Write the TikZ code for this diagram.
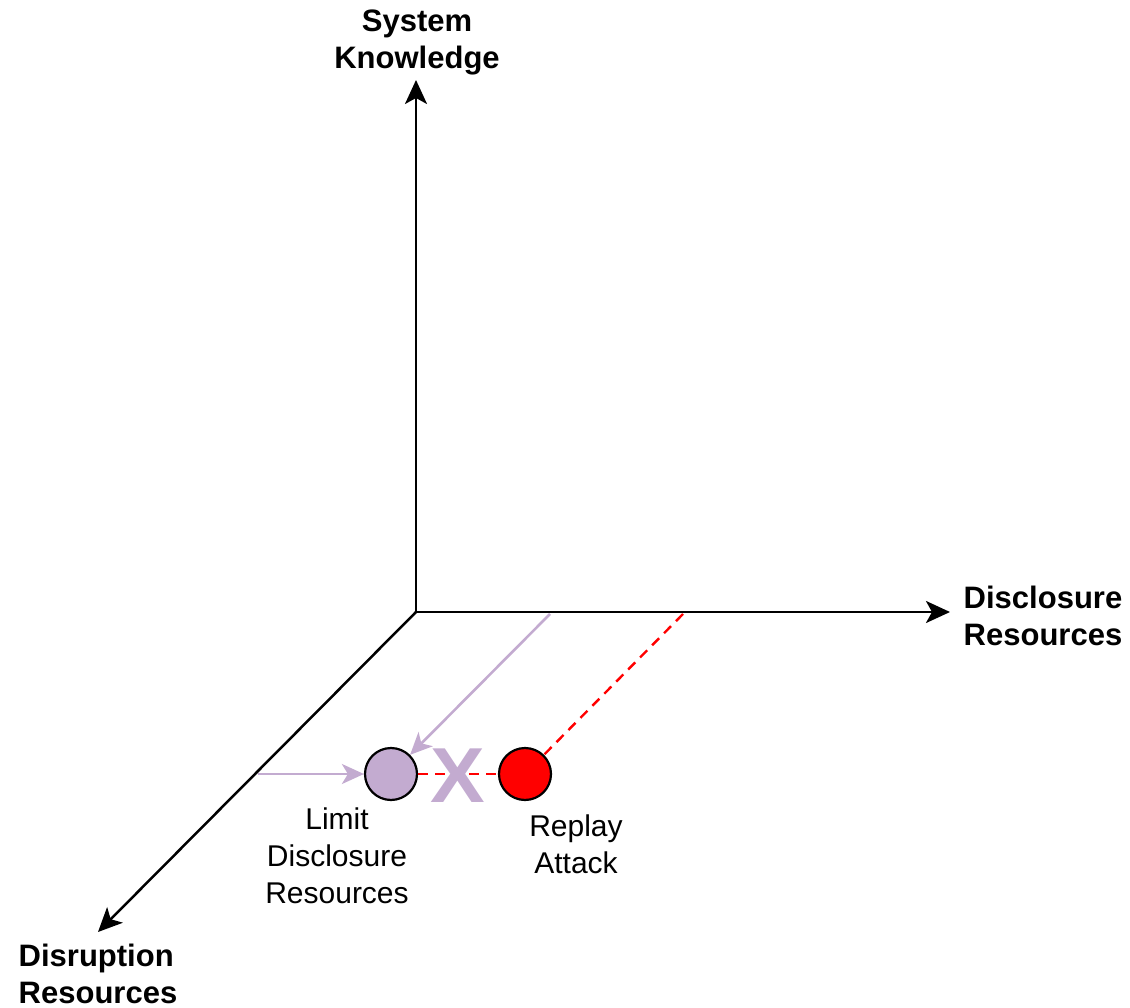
\documentclass[tikz,border=0pt]{standalone}
\usepackage{fontspec}
\setmainfont{Liberation Sans}
\usetikzlibrary{arrows.meta}
\definecolor{lav}{HTML}{C3ABD0}
\definecolor{rd}{HTML}{FF0000}
\begin{document}
\begin{tikzpicture}[x=1pt,y=-1pt,
  axis/.style={line width=2.5pt,-{Stealth[length=24pt,width=22pt,inset=6pt]}},
  lavarrow/.style={draw=lav,line width=2.6pt,-{Stealth[length=22pt,width=20pt,inset=6pt]}},
  reddash/.style={draw=rd,line width=2.4pt,dash pattern=on 10pt off 7pt},
  dot/.style={circle,draw=black,line width=2.2pt,minimum size=52pt,inner sep=0pt},
  bigtxt/.style={font=\fontsize{31}{37}\selectfont\bfseries,align=left},
  smalltxt/.style={font=\fontsize{30}{37}\selectfont,align=center}]
\useasboundingbox (0,0) rectangle (1130,1008);
% axes
\coordinate (O) at (416,612);
\coordinate (yt) at (416,80);
\coordinate (xt) at (950,612);
\coordinate (zt) at (98,932);
\draw[axis] (O) -- (yt);
\draw[axis] (O) -- (xt);
\draw[axis] (O) -- (zt);
% axis labels
\node[bigtxt,align=center] (yl) at (417,42) {System\\Knowledge};
\node[bigtxt] (xl) at (1043,616) {Disclosure\\Resources};
\node[bigtxt] (zl) at (98,974) {Disruption\\Resources};
% points
\node[dot,fill=lav] (lim) at (391,774) {};
\node[dot,fill=rd] (rep) at (525,774) {};
% projections
\coordinate (xr) at (683,614);
\coordinate (xl2) at (550,614);
\coordinate (zl2) at (258,774);
\draw[reddash] (xr) -- (rep);
\draw[reddash] (lim) -- (rep);
\node[text=lav,font=\fontsize{78}{78}\selectfont\bfseries,inner sep=0pt,xscale=1.05] (cross) at (458,776) {X};
\draw[lavarrow] (xl2) -- (lim);
\draw[lavarrow] (zl2) -- (lim);
% point labels
\node[smalltxt] (liml) at (337,856) {Limit\\Disclosure\\Resources};
\node[smalltxt] (repl) at (576,844) {Replay\\Attack};
\end{tikzpicture}
\end{document}
